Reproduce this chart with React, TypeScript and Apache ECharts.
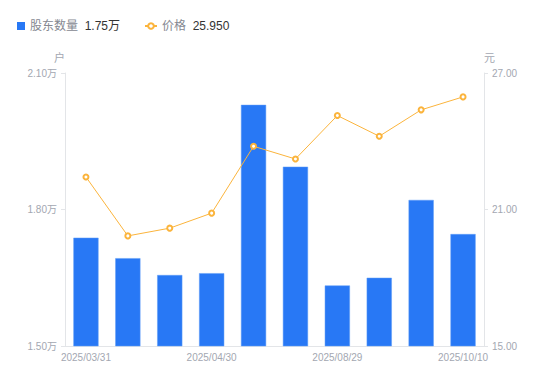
import React, { useEffect, useRef } from "react";
import * as echarts from "echarts";

const categories = [
  "2025/03/31", "2025/04/10", "2025/04/20", "2025/04/30", "2025/06/30",
  "2025/07/31", "2025/08/29", "2025/09/10", "2025/09/30", "2025/10/10",
];
const holders = [17380, 16930, 16560, 16600, 20300, 18940, 16330, 16500, 18210, 17460];
const prices = [22.43, 19.84, 20.18, 20.84, 23.78, 23.22, 25.13, 24.22, 25.38, 25.95];
const leftTicks = { min: 15000, max: 21000, interval: 3000 };
const rightTicks = { min: 15, max: 27, interval: 6 };
const legendValues = { holders: "1.75万", price: "25.950" };

export default function App() {
  const ref = useRef<HTMLDivElement>(null);
  useEffect(() => {
    document.body.style.margin = "0";
    const chart = echarts.init(ref.current!, null, { renderer: "svg" });
    const axisLabelColor = "#a3a7b1";
    const legendText = {
      rich: {
        n: { color: "#858891", fontSize: 12 },
        v: { color: "#333", fontSize: 12 },
      },
    };
    chart.setOption({
      animation: false,
      textStyle: { fontFamily: "'Liberation Sans', Arial, 'Noto Sans CJK SC', sans-serif" },
      legend: [
        {
          left: 17,
          top: 20,
          padding: 0,
          itemWidth: 8,
          itemHeight: 8,
          itemStyle: { borderWidth: 0 },
          data: [{ name: "股东数量", icon: "rect" }],
          formatter: (name: string) => `{n|${name}}  {v|${legendValues.holders}}`,
          textStyle: legendText,
        },
        {
          left: 144,
          top: 20,
          padding: 0,
          itemWidth: 12,
          itemHeight: 7,
          data: [{ name: "价格" }],
          formatter: (name: string) => `{n|${name}}  {v|${legendValues.price}}`,
          textStyle: legendText,
        },
      ],
      grid: { left: 65, right: 66, top: 73, bottom: 35 },
      xAxis: {
        type: "category",
        data: categories,
        axisLine: { lineStyle: { color: "#e3e5e8" } },
        axisTick: { show: false },
        axisLabel: { interval: 2, color: axisLabelColor, fontSize: 10, margin: 6 },
      },
      yAxis: [
        {
          type: "value",
          name: "户",
          nameGap: 10,
          nameTextStyle: { color: axisLabelColor, fontSize: 11, align: "right" },
          min: leftTicks.min,
          max: leftTicks.max,
          interval: leftTicks.interval,
          axisLine: { show: true, lineStyle: { color: "#e3e5e8" } },
          axisTick: { show: true, length: 4, lineStyle: { color: "#e3e5e8" } },
          splitLine: { show: false },
          axisLabel: {
            color: axisLabelColor,
            fontSize: 10,
            margin: 8,
            formatter: (v: number) => (v / 10000).toFixed(2) + "万",
          },
        },
        {
          type: "value",
          name: "元",
          nameGap: 10,
          nameTextStyle: { color: axisLabelColor, fontSize: 11, align: "left" },
          min: rightTicks.min,
          max: rightTicks.max,
          interval: rightTicks.interval,
          axisLine: { show: true, lineStyle: { color: "#e3e5e8" } },
          axisTick: { show: true, length: 4, lineStyle: { color: "#e3e5e8" } },
          splitLine: { show: false },
          axisLabel: {
            color: axisLabelColor,
            fontSize: 10,
            margin: 8,
            formatter: (v: number) => v.toFixed(2),
          },
        },
      ],
      series: [
        {
          name: "股东数量",
          type: "bar",
          data: holders,
          barWidth: "60%",
          itemStyle: { color: "#2878f5", borderColor: "#5f9cf7", borderWidth: 0.5 },
        },
        {
          name: "价格",
          type: "line",
          yAxisIndex: 1,
          data: prices,
          symbol: "emptyCircle",
          symbolSize: 5,
          lineStyle: { color: "#fbb43c", width: 1 },
          itemStyle: { color: "#fbb43c", borderWidth: 1.5 },
        },
      ],
    });
    return () => chart.dispose();
  }, []);
  return <div ref={ref} style={{ width: 550, height: 381 }} />;
}
